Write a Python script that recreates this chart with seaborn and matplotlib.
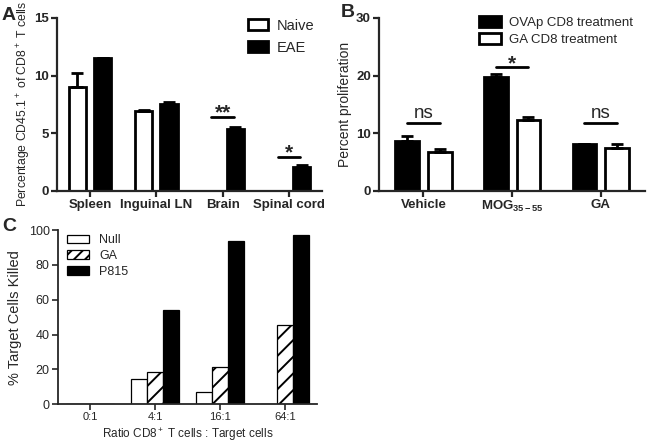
import numpy as np
import pandas as pd
import matplotlib
matplotlib.use('Agg')
import matplotlib.pyplot as plt
from matplotlib.patches import Patch
import seaborn as sns

# Panel A data
tissues = ['Spleen', 'Inguinal LN', 'Brain', 'Spinal cord']
naive = [9.0, 6.9, 0.0, 0.0]
naive_sem = [1.2, 0.1, 0.0, 0.0]
eae = [11.5, 7.5, 5.35, 2.05]
eae_sem = [0.05, 0.2, 0.15, 0.15]
sig_a = [(2, 6.4, '**'), (3, 2.95, '*')]

# Panel B data
treatments = ['Vehicle', r'MOG$_{\mathbf{35-55}}$', 'GA']
ovap = [8.7, 19.75, 8.05]
ovap_sem = [0.8, 0.55, 0.15]
ga_cd8 = [6.7, 12.3, 7.5]
ga_cd8_sem = [0.5, 0.55, 0.55]
sig_b = [(0, 11.7, 'ns'), (1, 21.4, '*'), (2, 11.7, 'ns')]

# Panel C data
ratios = ['0:1', '4:1', '16:1', '64:1']
null = [0, 14.4, 7.1, 0]
ga_kill = [0, 18.6, 21.5, 45.4]
p815 = [0, 54.0, 93.9, 97.1]

sns.set_style('ticks')
plt.rcParams['font.family'] = ['Liberation Sans', 'DejaVu Sans']
plt.rcParams['mathtext.fontset'] = 'custom'
plt.rcParams['mathtext.rm'] = 'Liberation Sans'
plt.rcParams['mathtext.it'] = 'Liberation Sans:italic'
plt.rcParams['mathtext.bf'] = 'Liberation Sans:bold'
plt.rcParams['hatch.linewidth'] = 1.4

fig = plt.figure(figsize=(6.47, 4.47), dpi=100)
ax_a = fig.add_axes([0.088, 0.573, 0.41, 0.387])
ax_b = fig.add_axes([0.586, 0.573, 0.411, 0.387])
ax_c = fig.add_axes([0.0896, 0.096, 0.401, 0.389])


def add_errors(ax, bars, values, sems):
    for cont, vals, errs in zip(bars, values, sems):
        xs = [p.get_x() + p.get_width() / 2 for p in cont.patches]
        ax.errorbar(xs, vals, yerr=[np.zeros(len(errs)), errs], fmt='none',
                    ecolor='black', elinewidth=2, capsize=4, capthick=2, zorder=1)


def bar_centers(bars, i):
    return [c.patches[i].get_x() + c.patches[i].get_width() / 2 for c in bars]


def style_bold(ax, size=9.5):
    for lab in ax.get_xticklabels() + ax.get_yticklabels():
        lab.set_fontweight('bold')
        lab.set_fontsize(size)
    for s in ['left', 'bottom']:
        ax.spines[s].set_linewidth(1.6)
    ax.tick_params(width=1.6, length=4, direction='out', pad=2)
    sns.despine(ax=ax)


# ---- A ----
df_a = pd.DataFrame({'tissue': tissues * 2,
                     'group': ['Naive'] * 4 + ['EAE'] * 4,
                     'value': naive + eae})
sns.barplot(data=df_a, x='tissue', y='value', hue='group', ax=ax_a,
            palette={'Naive': 'white', 'EAE': 'black'}, edgecolor='black',
            linewidth=2, width=0.76, gap=0.32, errorbar=None, legend=False)
bars_a = list(ax_a.containers)
add_errors(ax_a, bars_a, [naive, eae], [naive_sem, eae_sem])
for i, y, txt in sig_a:
    ax_a.plot([i - 0.17, i + 0.17], [y, y], color='black', lw=2)
    ax_a.text(i, y - 0.15, txt, ha='center', va='baseline', fontsize=15, fontweight='bold')
ax_a.set_ylim(0, 15)
ax_a.set_xlim(-0.5, 3.5)
ax_a.set_yticks([0, 5, 10, 15])
ax_a.set_xlabel('')
ax_a.set_ylabel(r'Percentage CD45.1$^+$ of CD8$^+$ T cells', fontsize=8.8, labelpad=0.5)
style_bold(ax_a)
ax_a.legend(handles=[Patch(facecolor='white', edgecolor='black', linewidth=2, label='Naive'),
                     Patch(facecolor='black', edgecolor='black', linewidth=2, label='EAE')],
            loc='upper left', bbox_to_anchor=(0.67, 1.07), frameon=False, fontsize=10.5,
            handlelength=1.4, handleheight=0.8, handletextpad=0.6, labelspacing=0.55)

# ---- B ----
df_b = pd.DataFrame({'treat': treatments * 2,
                     'group': ['OVAp CD8 treatment'] * 3 + ['GA CD8 treatment'] * 3,
                     'value': ovap + ga_cd8})
sns.barplot(data=df_b, x='treat', y='value', hue='group', ax=ax_b,
            palette={'OVAp CD8 treatment': 'black', 'GA CD8 treatment': 'white'},
            edgecolor='black', linewidth=2, width=0.74, gap=0.28, errorbar=None, legend=False)
bars_b = list(ax_b.containers)
add_errors(ax_b, bars_b, [ovap, ga_cd8], [ovap_sem, ga_cd8_sem])
for i, y, txt in sig_b:
    xs = bar_centers(bars_b, i)
    ax_b.plot(xs, [y, y], color='black', lw=2)
    if txt == 'ns':
        ax_b.text(np.mean(xs), y + 0.3, txt, ha='center', va='bottom', fontsize=13.5)
    else:
        ax_b.text(np.mean(xs), y - 0.3, txt, ha='center', va='baseline', fontsize=15, fontweight='bold')
ax_b.set_ylim(0, 30)
ax_b.set_xlim(-0.5, 2.5)
ax_b.set_yticks([0, 10, 20, 30])
ax_b.set_xlabel('')
ax_b.set_ylabel('Percent proliferation', fontsize=10, labelpad=3)
style_bold(ax_b)
ax_b.legend(handles=[Patch(facecolor='black', edgecolor='black', linewidth=2, label='OVAp CD8 treatment'),
                     Patch(facecolor='white', edgecolor='black', linewidth=2, label='GA CD8 treatment')],
            loc='upper left', bbox_to_anchor=(0.33, 1.08), frameon=False, fontsize=9.5,
            handlelength=1.7, handleheight=0.9, handletextpad=0.6, labelspacing=0.3)

# ---- C ----
df_c = pd.DataFrame({'ratio': ratios * 3,
                     'target': ['Null'] * 4 + ['GA'] * 4 + ['P815'] * 4,
                     'value': null + ga_kill + p815})
sns.barplot(data=df_c, x='ratio', y='value', hue='target', ax=ax_c,
            palette={'Null': 'white', 'GA': 'white', 'P815': 'black'},
            edgecolor='black', linewidth=0.9, width=0.74, gap=0, errorbar=None, legend=False)
for p in ax_c.containers[1].patches:
    p.set_hatch('//')
ax_c.set_ylim(0, 100)
ax_c.set_xlim(-0.5, 3.5)
ax_c.set_yticks([0, 20, 40, 60, 80, 100])
ax_c.set_xlabel(r'Ratio CD8$^+$ T cells : Target cells', fontsize=8.5, labelpad=3)
ax_c.set_ylabel('% Target Cells Killed', fontsize=10.5, labelpad=5)
ax_c.tick_params(labelsize=9, width=1.2, length=4, direction='out', pad=2)
ax_c.tick_params(axis='x', labelsize=8)
for s in ['left', 'bottom']:
    ax_c.spines[s].set_linewidth(1.3)
sns.despine(ax=ax_c)
ax_c.legend(handles=[Patch(facecolor='white', edgecolor='black', linewidth=0.9, label='Null'),
                     Patch(facecolor='white', edgecolor='black', linewidth=0.9, hatch='///', label='GA'),
                     Patch(facecolor='black', edgecolor='black', linewidth=0.9, label='P815')],
            loc='upper left', bbox_to_anchor=(-0.01, 1.04), frameon=False, fontsize=9,
            handlelength=1.8, handleheight=0.7, handletextpad=0.8, labelspacing=0.3)

fig.text(0.002, 0.966, 'A', fontsize=14, fontweight='bold', va='center', ha='left')
fig.text(0.527, 0.973, 'B', fontsize=14, fontweight='bold', va='center', ha='left')
fig.text(0.004, 0.494, 'C', fontsize=14, fontweight='bold', va='center', ha='left')

fig.savefig('out.png', dpi=100)
